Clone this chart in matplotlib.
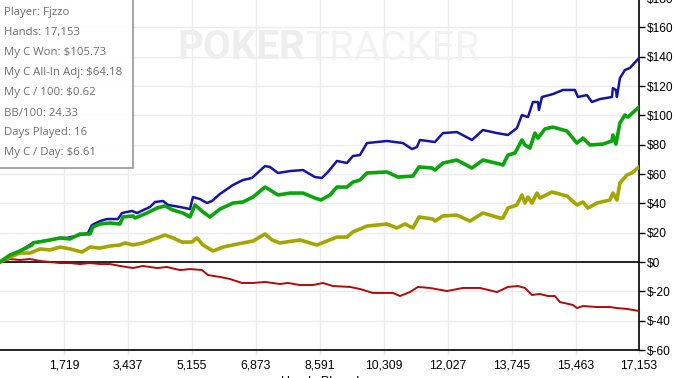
import matplotlib
matplotlib.use("Agg")
import matplotlib.pyplot as plt
from matplotlib.patches import Rectangle
from matplotlib.ticker import FixedLocator, FuncFormatter

# ---- data (hands played, dollars) ----
blue_x = [0, 268, 537, 886, 1342, 1610, 1798, 2147, 2362, 2469, 2684, 2872, 3167, 3274, 3543, 3677,
          4026, 4160, 4375, 4509, 4831, 5100, 5180, 5368, 5556, 5690, 5905, 6254, 6522, 6764, 7113,
          7247, 7462, 7784, 8133, 8455, 8642, 8804, 9045, 9313, 9475, 9662, 9850, 10387, 10817,
          11058, 11192, 11273, 11675, 11890, 12266, 12668, 12964, 13339, 13635, 13876, 14010, 14172,
          14306, 14440, 14467, 14547, 14843, 15111, 15433, 15514, 15755, 15889, 16104, 16426, 16453,
          16533, 16560, 16641, 16775, 16909, 17153]
blue_y = [0, 4.8, 7.5, 13.0, 15.0, 16.4, 16.4, 18.4, 19.8, 25.2, 27.9, 29.3, 29.3, 33.4, 34.8, 33.4,
          37.5, 40.9, 41.6, 38.9, 37.5, 36.1, 44.3, 42.9, 40.2, 41.6, 46.4, 52.5, 55.9, 57.3, 65.4,
          64.8, 60.7, 62.0, 62.7, 57.9, 57.3, 61.4, 68.9, 67.5, 72.3, 72.9, 81.1, 82.5, 81.1,
          77.0, 78.4, 83.2, 81.8, 87.9, 88.6, 83.2, 90.0, 87.9, 86.6, 91.3, 100.2, 98.8,
          109.1, 109.1, 103.6, 112.5, 114.5, 117.3, 117.3, 112.5, 113.8, 109.1, 111.1, 112.5, 118.6,
          117.3, 112.5, 125.4, 130.9, 132.3, 139.1]

green_x = [0, 268, 537, 859, 886, 1342, 1610, 1879, 2147, 2416, 2496, 2684, 2952, 3221, 3301, 3570,
           3623, 3945, 4214, 4429, 4643, 4912, 5100, 5234, 5449, 5636, 5905, 6254, 6522, 6791, 7113,
           7247, 7462, 7784, 8133, 8455, 8616, 8857, 9045, 9313, 9475, 9662, 9850, 10387, 10682,
           11085, 11246, 11595, 11675, 11890, 12266, 12668, 12964, 13420, 13501, 13635, 13823, 14010,
           14091, 14225, 14359, 14440, 14628, 14843, 15218, 15487, 15648, 15836, 16185, 16426, 16453,
           16533, 16641, 16775, 16856, 17153]
green_y = [0, 4.8, 7.5, 11.6, 13.0, 15.0, 16.4, 15.7, 19.1, 19.1, 23.9, 25.9, 26.6, 25.9, 30.7, 31.4,
           30.0, 33.4, 36.8, 38.2, 35.4, 33.4, 30.7, 38.9, 34.1, 30.7, 36.1, 40.2, 40.9, 44.3, 51.1,
           49.1, 45.7, 47.0, 47.0, 43.6, 42.3, 45.7, 51.1, 51.1, 54.5, 55.9, 60.7, 61.4, 57.9,
           58.6, 64.8, 64.1, 62.7, 67.5, 69.5, 64.1, 69.5, 66.8, 66.1, 72.9, 74.3, 83.2,
           79.8, 77.7, 87.9, 84.5, 90.7, 92.0, 89.3, 81.1, 84.5, 79.8, 80.4, 82.5, 86.6,
           80.4, 94.8, 100.2, 98.8, 105.7]

olive_x = [0, 268, 537, 805, 1074, 1342, 1610, 1879, 2201, 2416, 2684, 2952, 3221, 3355, 3570, 3838,
           4214, 4429, 4643, 4885, 5153, 5287, 5449, 5717, 5985, 6254, 6522, 6791, 7113, 7300, 7515,
           8052, 8508, 8777, 9045, 9313, 9475, 9850, 10387, 10655, 10870, 11085, 11246, 11622, 11675,
           11890, 12266, 12615, 12964, 13420, 13501, 13635, 13876, 14010, 14091, 14172, 14279, 14413,
           14494, 14816, 15218, 15487, 15648, 15782, 16023, 16372, 16453, 16560, 16641, 16829, 16963,
           17153]
olive_y = [0, 3.4, 6.1, 6.1, 8.9, 8.2, 10.2, 8.9, 6.8, 10.2, 9.5, 10.9, 11.6, 13.0, 11.6, 13.0,
           16.4, 18.4, 16.4, 13.6, 13.6, 16.4, 11.6, 7.5, 10.2, 11.6, 13.0, 14.3, 19.1, 15.0, 13.0,
           15.0, 11.6, 14.3, 17.0, 17.0, 20.5, 24.5, 25.9, 23.2, 25.9, 23.2, 30.7, 29.3, 27.9,
           31.4, 32.0, 27.9, 33.4, 30.0, 30.0, 36.8, 38.9, 45.7, 40.2, 44.3, 40.2, 47.0,
           43.6, 47.7, 45.0, 38.9, 40.9, 36.8, 40.2, 42.3, 47.0, 42.3, 53.9, 59.3, 60.7,
           64.8]

red_x = [0, 268, 537, 805, 1074, 1342, 1610, 1879, 2147, 2416, 2684, 2952, 3221, 3570, 3838, 4214,
         4482, 4831, 5100, 5422, 5583, 5905, 6173, 6495, 6791, 7113, 7515, 7730, 8052, 8401, 8669,
         8938, 9394, 9662, 10011, 10280, 10548, 10736, 11004, 11219, 11541, 11997, 12427, 12883,
         13339, 13635, 13903, 14091, 14279, 14494, 14708, 14896, 15030, 15379, 15487, 15648, 16023,
         16372, 16560, 16829, 16990, 17153]
red_y = [0, 2.0, 1.4, 2.0, 0.7, 0, -0.7, -0.7, -1.4, -0.7, -1.4, -1.4, -2.7, -4.1, -2.7, -4.1,
         -3.4, -5.5, -4.8, -5.5, -8.9, -10.2, -11.6, -14.3, -14.3, -13.6, -15.0, -14.3, -15.7, -15.7, -14.3,
         -16.4, -17.0, -18.4, -21.1, -21.1, -21.1, -23.2, -20.5, -17.0, -17.7, -19.8, -17.7, -17.7,
         -20.5, -17.0, -16.4, -17.7, -22.5, -21.8, -23.2, -23.2, -27.3, -29.3, -31.4, -30.0, -30.7,
         -30.7, -31.4, -32.0, -32.7, -33.4]

x_ticks = [1719, 3437, 5155, 6873, 8591, 10309, 12027, 13745, 15463, 17153]
y_ticks = [-60, -40, -20, 0, 20, 40, 60, 80, 100, 120, 140, 160, 180]

info_lines = ["Player: Fjzzo", "Hands: 17,153", "My C Won: $105.73", "My C All-In Adj: $64.18",
              "My C / 100: $0.62", "BB/100: 24.33", "Days Played: 16", "My C / Day: $6.61"]

# ---- figure ----
W, H = 674, 378
fig = plt.figure(figsize=(W / 100, H / 100), dpi=100)
# axes reaches 2px above the canvas so the $180 label is partly cut, as in the reference
ax = fig.add_axes([0, 1 - 350 / H, 639 / W, 352 / H])
ax.set_xlim(0, 17153)
ax.set_ylim(-60, 180)

for s in ["left", "top"]:
    ax.spines[s].set_visible(False)
for s in ["right", "bottom"]:
    ax.spines[s].set_color("black")
    ax.spines[s].set_linewidth(1.2)

ax.xaxis.set_major_locator(FixedLocator(x_ticks))
ax.xaxis.set_major_formatter(FuncFormatter(lambda v, p: f"{int(round(v)):,}"))
ax.yaxis.set_major_locator(FixedLocator(y_ticks))
ax.yaxis.set_major_formatter(FuncFormatter(lambda v, p: f"${v:.0f}"))
ax.yaxis.tick_right()
ax.tick_params(axis="y", direction="out", length=4, width=1, color="black", pad=2,
               labelsize=8.6, labelcolor="black")
ax.tick_params(axis="x", direction="out", length=3, width=1, color="#dddddd", pad=4,
               labelsize=8.8, labelcolor="black")
for lab in ax.get_xticklabels() + ax.get_yticklabels():
    lab.set_family("Liberation Sans")
ax.grid(True, color="#ececec", linewidth=1, zorder=0)
ax.set_axisbelow(True)

ax.axhline(0, color="black", linewidth=1.2, zorder=2)

# watermark
fig.text(305 / W, 1 - 48 / H, "POKER", ha="right", va="center", fontsize=29,
         fontweight="bold", family="Roboto", color="#eeeeee", zorder=0)
fig.text(305 / W, 1 - 48 / H, "TRACKER", ha="left", va="center", fontsize=29,
         family="Roboto", color="#f2f2f2", zorder=0)

ax.plot(blue_x, blue_y, color="#1414a8", linewidth=1.8, zorder=3)
ax.plot(red_x, red_y, color="#b40a0a", linewidth=1.4, zorder=3)
ax.plot(olive_x, olive_y, color="#a5a500", linewidth=2.6, zorder=3)
ax.plot(green_x, green_y, color="#0aa50a", linewidth=2.6, zorder=4)

ax.set_xlabel("Hands Played", fontsize=9, family="Liberation Sans")
ax.xaxis.set_label_coords(320 / 639, -0.075)

# info box
box = Rectangle((-1 / W, 1 - 168 / H), 134 / W, 170 / H, transform=fig.transFigure,
                facecolor="white", edgecolor="#8c8c8c", linewidth=1.2, alpha=0.9, zorder=10)
fig.patches.append(box)
for i, t in enumerate(info_lines):
    fig.text(4 / W, 1 - (13 + i * 20) / H, t, ha="left", va="center", fontsize=8.2,
             family="Open Sans", color="#6e6e6e", zorder=11)

fig.savefig("out.png", dpi=100)
